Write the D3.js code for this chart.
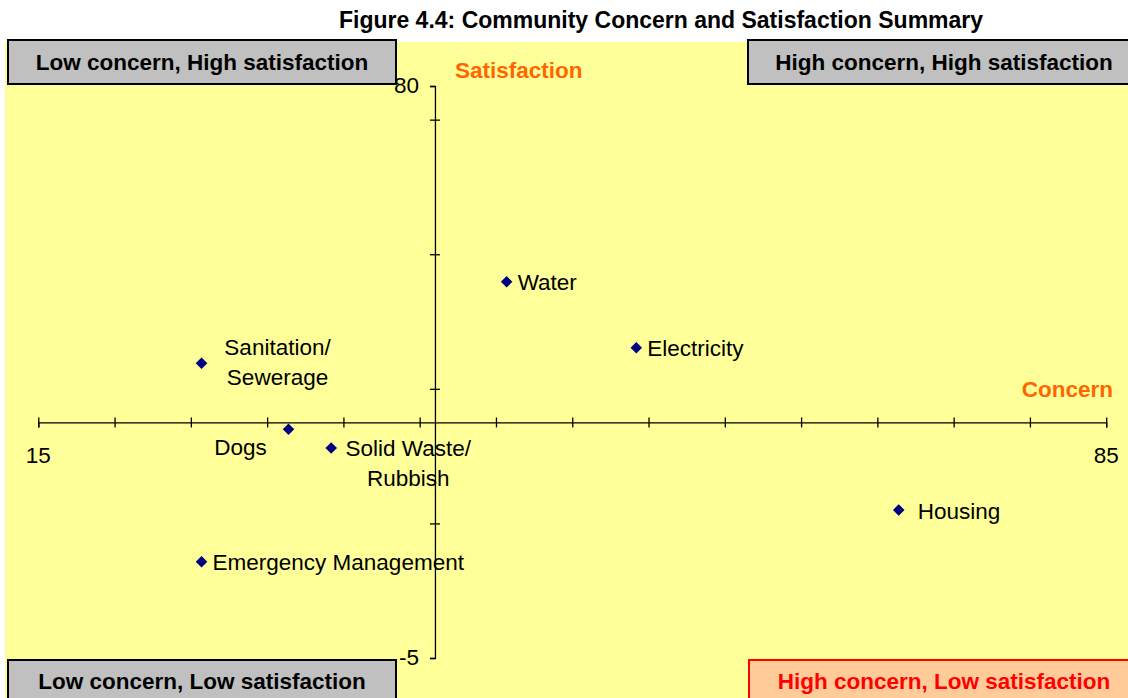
<!DOCTYPE html>
<html>
<head>
<meta charset="utf-8">
<script src="https://cdn.jsdelivr.net/npm/d3@7"></script>
<style>
  body { margin: 0; background: #fff; }
  text { font-family: Arial, "Liberation Sans", sans-serif; }
</style>
</head>
<body>
<div id="chart"></div>
<script>
(function() {
  'use strict';

  // data
  var categories = ["Water", "Electricity", "Sanitation/ Sewerage", "Dogs",
                    "Solid Waste/ Rubbish", "Housing", "Emergency Management"];
  var concern = [45.7, 54.2, 25.7, 31.4, 34.2, 71.4, 25.7];
  var satisfaction = [50.9, 41.1, 38.8, 29.0, 26.2, 17.0, 9.3];

  var xTicks = [15, 20, 25, 30, 35, 40, 45, 50, 55, 60, 65, 70, 75, 80, 85];
  var yTicks = [-5, 15, 35, 55, 75, 80];
  var xTickLabels = [15, 85];
  var yTickLabels = [80, -5];
  var quadrantNames = ["Low concern, High satisfaction", "High concern, High satisfaction",
                       "Low concern, Low satisfaction", "High concern, Low satisfaction"];

  // where axes cross each other
  var xCross = 30;   // satisfaction value where concern axis sits
  var yCross = 41;   // concern value where satisfaction axis sits

  var width = 1128, height = 698;

  var svg = d3.select("#chart").append("svg")
    .attr("width", width)
    .attr("height", height);

  // plot background
  svg.append("rect")
    .attr("x", 5).attr("y", 42)
    .attr("width", width - 5).attr("height", height - 42)
    .attr("fill", "#ffff99");

  svg.append("text")
    .attr("x", 661).attr("y", 28)
    .attr("text-anchor", "middle")
    .style("font-size", "23px").style("font-weight", "bold")
    .text("Figure 4.4: Community Concern and Satisfaction Summary");

  var x = d3.scaleLinear().domain([15, 85]).range([38.3, 1106.2]);
  var y = d3.scaleLinear().domain([-5, 80]).range([658, 86]);

  // concern axis (horizontal)
  var xAxis = svg.append("g")
    .attr("transform", "translate(0," + y(xCross) + ")")
    .call(d3.axisBottom(x).tickValues(xTicks).tickFormat("").tickSizeOuter(0).tickSize(5));
  xAxis.selectAll(".tick line").attr("y1", -5).attr("y2", 5);

  // satisfaction axis (vertical)
  var yAxis = svg.append("g")
    .attr("transform", "translate(" + x(yCross) + ",0)")
    .call(d3.axisLeft(y).tickValues(yTicks).tickFormat("").tickSizeOuter(0).tickSize(5));
  yAxis.selectAll(".tick line").attr("x1", -5).attr("x2", 5);
  yAxis.selectAll(".tick").filter(function(d) { return d === 80 || d === -5; })
    .select("line").attr("x2", 0);

  svg.selectAll(".domain, .tick line").attr("stroke", "#000").attr("stroke-width", 1.3);

  // axis titles
  svg.append("text")
    .attr("x", 455).attr("y", 78)
    .attr("fill", "#ff6600")
    .style("font-size", "22.5px").style("font-weight", "bold")
    .text("Satisfaction");
  svg.append("text")
    .attr("x", 1113).attr("y", 397)
    .attr("text-anchor", "end")
    .attr("fill", "#ff6600")
    .style("font-size", "22.5px").style("font-weight", "bold")
    .text("Concern");

  // points
  var points = categories.map(function(c, i) {
    return { name: c, cx: concern[i], sy: satisfaction[i] };
  });

  svg.selectAll(".pt").data(points).join("path")
    .attr("d", d3.symbol().type(d3.symbolDiamond2).size(85))
    .attr("transform", function(d) { return "translate(" + x(d.cx) + "," + y(d.sy) + ")"; })
    .attr("fill", "#000080");

  // label placement, relative to each marker
  var labelPos = {
    "Water": { dx: 11, dy: 8, anchor: "start" },
    "Electricity": { dx: 11, dy: 8, anchor: "start" },
    "Sanitation/ Sewerage": { dx: 76, dy: -8, anchor: "middle" },
    "Dogs": { dx: -48, dy: 26, anchor: "middle" },
    "Solid Waste/ Rubbish": { dx: 77, dy: 8, anchor: "middle" },
    "Housing": { dx: 19, dy: 9, anchor: "start" },
    "Emergency Management": { dx: 11, dy: 8, anchor: "start" }
  };

  var labels = svg.selectAll(".lbl").data(points).join("text")
    .attr("x", function(d) { return x(d.cx) + labelPos[d.name].dx; })
    .attr("y", function(d) { return y(d.sy) + labelPos[d.name].dy; })
    .attr("text-anchor", function(d) { return labelPos[d.name].anchor; })
    .style("font-size", "22.5px");

  labels.each(function(d) {
    var t = d3.select(this);
    var parts = d.name.indexOf("/ ") > 0 ? [d.name.split("/ ")[0] + "/", d.name.split("/ ")[1]] : [d.name];
    parts.forEach(function(p, k) {
      t.append("tspan")
        .attr("x", x(d.cx) + labelPos[d.name].dx)
        .attr("dy", k === 0 ? 0 : 30)
        .text(p);
    });
  });

  // quadrant boxes
  var boxes = [
    { x: 8, y: 40, w: 388, h: 44, fill: "#c0c0c0", stroke: "#000", color: "#000" },
    { x: 748, y: 40, w: 385, h: 44, fill: "#c0c0c0", stroke: "#000", color: "#000" },
    { x: 8, y: 660, w: 388, h: 44, fill: "#c0c0c0", stroke: "#000", color: "#000" },
    { x: 749, y: 660, w: 385, h: 44, fill: "#ffcc99", stroke: "#ff0000", color: "#ff0000" }
  ];

  boxes.forEach(function(b, i) {
    svg.append("rect")
      .attr("x", b.x).attr("y", b.y).attr("width", b.w).attr("height", b.h)
      .attr("fill", b.fill).attr("stroke", b.stroke).attr("stroke-width", 2);
    svg.append("text")
      .attr("x", i % 2 === 0 ? 202 : 944)
      .attr("y", i < 2 ? 70 : 689)
      .attr("text-anchor", "middle")
      .attr("fill", b.color)
      .style("font-size", "22.5px").style("font-weight", "bold")
      .text(quadrantNames[i]);
  });

  // tick labels, drawn last so the boxes don't hide them
  svg.selectAll(".xlab").data(xTickLabels).join("text")
    .attr("x", function(d) { return x(d); })
    .attr("y", y(xCross) + 41)
    .attr("text-anchor", "middle")
    .style("font-size", "22.5px")
    .text(function(d) { return d; });

  svg.selectAll(".ylab").data(yTickLabels).join("text")
    .attr("x", x(yCross) - 16)
    .attr("y", function(d) { return y(d) + 7; })
    .attr("text-anchor", "end")
    .style("font-size", "22.5px")
    .text(function(d) { return d; });

})();
</script>
</body>
</html>
